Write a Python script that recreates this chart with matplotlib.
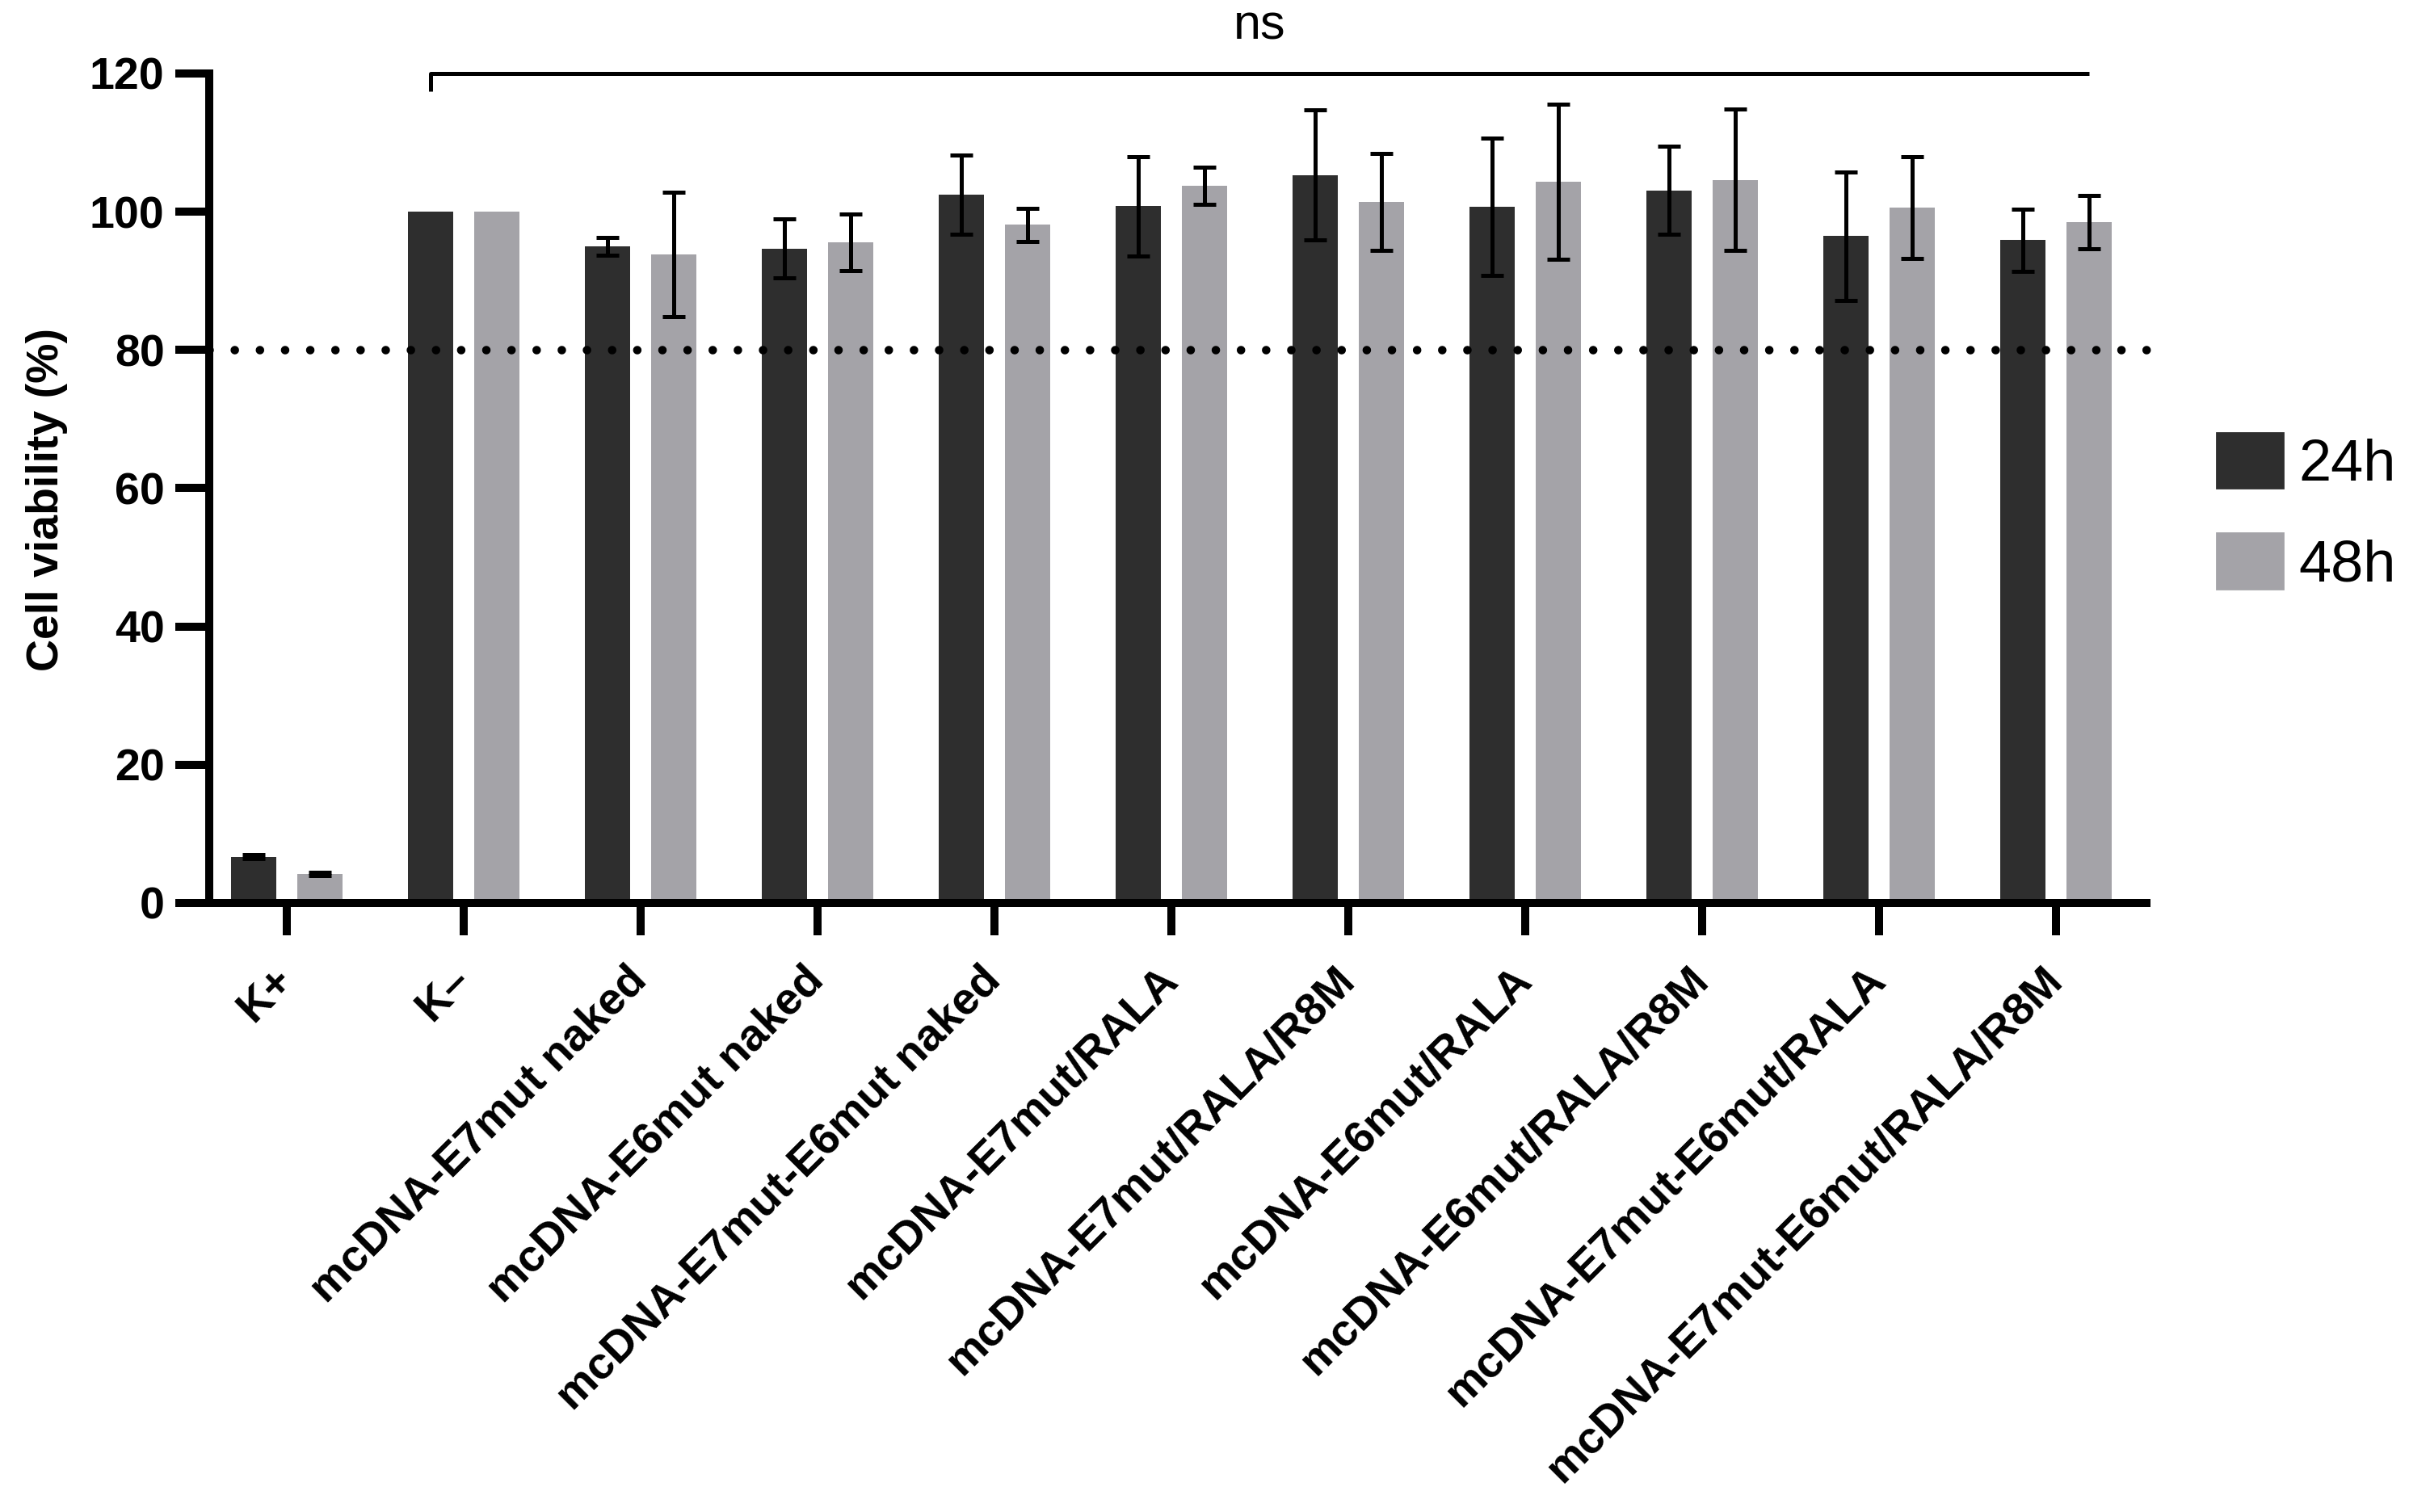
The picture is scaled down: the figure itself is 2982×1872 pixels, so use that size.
import matplotlib
matplotlib.use("Agg")
import matplotlib.pyplot as plt
import numpy as np
from matplotlib.patches import Patch

plt.rcParams['font.family'] = ['Liberation Sans', 'DejaVu Sans']
plt.rcParams['lines.scale_dashes'] = False

# Daten
groups = ['K+', 'K\u2013', 'mcDNA-E7mut naked', 'mcDNA-E6mut naked',
          'mcDNA-E7mut-E6mut naked', 'mcDNA-E7mut/RALA', 'mcDNA-E7mut/RALA/R8M',
          'mcDNA-E6mut/RALA', 'mcDNA-E6mut/RALA/R8M', 'mcDNA-E7mut-E6mut/RALA',
          'mcDNA-E7mut-E6mut/RALA/R8M']
v24 = [6.7, 100, 95.0, 94.7, 102.5, 100.8, 105.3, 100.7, 103.1, 96.5, 95.9]
e24 = [0.3, 0, 1.3, 4.3, 5.7, 7.2, 9.4, 9.9, 6.4, 9.3, 4.5]
v48 = [4.2, 100, 93.8, 95.6, 98.1, 103.8, 101.4, 104.3, 104.6, 100.6, 98.5]
e48 = [0.2, 0, 9.0, 4.1, 2.4, 2.7, 7.0, 11.2, 10.2, 7.4, 3.9]
series_names = ['24h', '48h']
threshold = 80

c24 = '#2e2e2e'
c48 = '#a4a3a8'
lw_axis = 3.6

fig = plt.figure(figsize=(14.91, 9.36), dpi=200)
ax = fig.add_axes([0.0869, 0.4028, 0.8041, 0.5486])

x = np.arange(len(groups))
bw = 0.256
off = 0.187

ax.bar(x - off, v24, width=bw, color=c24, zorder=2)
ax.bar(x + off, v48, width=bw, color=c48, zorder=2)

# Fehlerbalken nur dort, wo ein Fehler vorhanden ist (K- ist normiert)
err_kw = dict(fmt='none', ecolor='black', elinewidth=1.8, capsize=5, capthick=1.8, zorder=3)
for vals, errs, shift in [(v24, e24, -off), (v48, e48, off)]:
    idx = [i for i, e in enumerate(errs) if e > 0]
    ax.errorbar(x[idx] + shift, np.array(vals)[idx], yerr=np.array(errs)[idx], **err_kw)

# 80%-Schwelle
ax.axhline(threshold, color='black', lw=3.8, linestyle=(0, (0.01, 11.2)),
           dash_capstyle='round', zorder=4, clip_on=False)

ax.set_xlim(-0.438, 10.51)
ax.set_ylim(0, 120)
ax.set_yticks(np.arange(0, 121, 20))
ax.set_xticks(x)
ax.set_xticklabels(groups, rotation=45, ha='right', va='center',
                   rotation_mode='anchor', fontsize=20, fontweight='bold')
for lab in ax.get_yticklabels():
    lab.set_fontsize(20)
    lab.set_fontweight('bold')

ax.spines['top'].set_visible(False)
ax.spines['right'].set_visible(False)
ax.spines['left'].set_linewidth(lw_axis)
ax.spines['bottom'].set_linewidth(lw_axis)
ax.tick_params(axis='y', length=15, width=lw_axis, pad=5)
ax.tick_params(axis='x', length=14.5, width=lw_axis, pad=17)
ax.set_ylabel('Cell viability (%)', fontsize=20, fontweight='bold')
ax.yaxis.set_label_coords(-0.073, 0.486)

# Signifikanz-Klammer
xl = x[1] - off
xr = x[-1] + off
ax.plot([xl, xl, xr], [117.4, 120, 120], color='black', lw=1.8,
        clip_on=False, solid_capstyle='butt', zorder=5)
ax.text((xl + xr) / 2, 125, 'ns', ha='center', va='baseline', fontsize=22, clip_on=False)

handles = [Patch(color=c24, label=series_names[0]), Patch(color=c48, label=series_names[1])]
fig.legend(handles=handles, loc='upper left', bbox_to_anchor=(2744 / 2982, 1 - 536 / 1872),
           frameon=False, fontsize=26, handlelength=1.13, handleheight=1.08,
           handletextpad=0.28, labelspacing=0.7, borderpad=0, borderaxespad=0)

fig.savefig('out.png', dpi=200)
